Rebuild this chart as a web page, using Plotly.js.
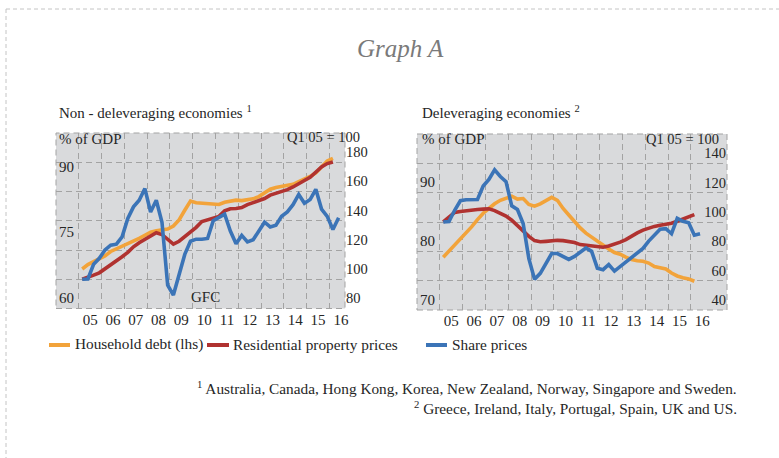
<!DOCTYPE html>
<html>
<head>
<meta charset="utf-8">
<script src="https://cdn.plot.ly/plotly-3.0.1.min.js"></script>
<style>html,body{margin:0;padding:0;background:#fff;}#chart{width:779px;height:458px;}</style>
</head>
<body>
<div id="chart"></div>
<script>
// ---- Categories ----
const quarters = [];
for (let y = 2005; y <= 2016; y++) for (let q = 1; q <= 4; q++) quarters.push(y + 'Q' + q);
const yearTickVals = [2005.5,2006.5,2007.5,2008.5,2009.5,2010.5,2011.5,2012.5,2013.5,2014.5,2015.5,2016.5];
const yearTickText = ['05','06','07','08','09','10','11','12','13','14','15','16'];
const yearGrid = [2005,2006,2007,2008,2009,2010,2011,2012,2013,2014,2015,2016];

// ---- Non-deleveraging economies ----
const ndHouseholdDebt = [69.0,70.0,70.7,71.3,72.0,73.0,73.6,74.1,74.6,75.4,76.0,76.7,77.4,77.7,77.9,78.1,
  78.8,80.2,82.4,84.5,84.1,84.0,84.1,84.0,83.7,84.2,84.4,84.7,84.6,84.8,85.0,85.5,86.3,87.2,87.6,87.9,
  88.0,88.3,88.9,89.4,90.1,90.9,92.3,93.6,94.2];
const ndPropertyPrices = [100,101.7,102.8,104.4,107.0,109.7,112.5,115.4,118.4,122.2,125.0,127.5,129.7,131.8,130.6,127.5,
  124.0,126.0,129.0,132.0,135.5,139.5,140.8,141.5,143.0,146.8,148.2,148.4,149.0,151.0,152.3,153.8,155.2,157.5,158.6,159.7,
  161.3,163.1,165.0,167.5,169.7,172.9,176.8,179.1,180.2];
const ndSharePrices = [100,100.2,110.2,114.3,120.0,123.3,124.0,129.0,141.6,149.5,154.0,162.0,146.0,154.0,139.0,96.0,
  89.2,103.0,117.0,126.0,127.4,127.4,127.9,140.0,142.5,144.5,133.0,124.3,130.0,125.5,127.0,133.0,139.0,135.8,137.0,143.0,
  146.0,151.0,158.0,152.0,154.5,161.5,148.0,143.0,134.0,142.0];

// ---- Deleveraging economies ----
const deHouseholdDebt = [79.0,80.0,81.1,82.0,83.1,84.2,85.4,86.5,87.3,88.1,88.7,89.1,89.4,88.9,89.0,88.0,
  87.7,88.1,88.7,89.2,88.7,87.3,86.2,85.0,84.0,83.1,82.4,81.8,81.1,80.4,79.8,79.5,79.0,78.6,78.4,78.3,
  78.0,77.4,77.2,77.0,76.3,75.8,75.5,75.3,74.9];
const dePropertyPrices = [100,103.5,106.5,107.2,107.8,108.2,108.5,108.8,109.0,107.8,106.0,104.0,101.2,97.5,93.6,90.2,
  87.3,86.5,86.8,87.2,87.5,87.3,86.9,86.0,84.6,84.0,83.6,83.1,82.8,83.6,84.8,86.3,88.0,90.5,92.6,94.5,
  95.9,97.0,97.8,98.3,99.2,100.5,101.8,103.2,105.0];
const deSharePrices = [100,100.3,108.0,114.5,115.2,115.3,115.3,124.5,129.0,135.5,131.0,127.5,111.0,108.5,99.0,75.0,
  61.0,65.0,71.5,78.5,78.5,76.5,74.5,76.5,79.5,82.3,80.0,68.5,67.5,71.0,66.5,69.7,72.5,75.5,79.0,82.0,
  87.0,91.0,95.0,95.5,92.0,102.5,100.5,99.5,91.0,92.0];

const seriesNames = ['Household debt (lhs)', 'Residential property prices', 'Share prices'];
const colors = ['#f2a33a', '#b03230', '#3b74b7'];

function qx(label) { const y = +label.slice(0, 4), q = +label.slice(5); return y + (q - 1) / 4 + 0.15; }
function xs(arr) { return quarters.slice(0, arr.length).map(qx); }

const FONT = "'Liberation Serif', 'DejaVu Serif', serif";
const TXT = '#262626';
const GRID = '#a3a3a3';
const DASH = '6px,4px';

function line(vals, xa, ya, color, name) {
  return { type: 'scatter', mode: 'lines', x: xs(vals), y: vals, xaxis: xa, yaxis: ya, name: name,
    line: { color: color, width: 3.6 }, showlegend: false, hoverinfo: 'skip' };
}

const data = [
  line(ndHouseholdDebt, 'x', 'y', colors[0], seriesNames[0]),
  line(ndPropertyPrices, 'x', 'y2', colors[1], seriesNames[1]),
  line(ndSharePrices, 'x', 'y2', colors[2], seriesNames[2]),
  line(deHouseholdDebt, 'x2', 'y3', colors[0], seriesNames[0]),
  line(dePropertyPrices, 'x2', 'y4', colors[1], seriesNames[1]),
  line(deSharePrices, 'x2', 'y4', colors[2], seriesNames[2])
];

const W = 779, H = 458;
const px = v => v / W, py = v => (H - v) / H;

function xAxis(domain, range, anchor) {
  return { domain: domain, range: range, anchor: anchor, tickmode: 'array', tickvals: yearTickVals, ticktext: yearTickText,
    showgrid: false, zeroline: false, showline: false, ticks: '', fixedrange: true,
    tickfont: { family: FONT, size: 15, color: TXT },
    minor: { tickmode: 'array', tickvals: yearGrid, showgrid: true, gridcolor: GRID, griddash: DASH, gridwidth: 1, ticks: '' } };
}
function yLeft(domain, range, vals, anchor) {
  return { domain: domain, range: range, anchor: anchor, tickmode: 'array', tickvals: vals, showgrid: false, zeroline: false,
    showline: false, ticks: '', ticklabelposition: 'inside top', fixedrange: true,
    tickfont: { family: FONT, size: 15, color: TXT } };
}
function yRight(over, anchor, range, vals, pos, standoff) {
  return { overlaying: over, side: 'right', anchor: anchor, range: range, tickmode: 'array', tickvals: vals,
    showgrid: true, gridcolor: GRID, griddash: DASH, gridwidth: 1, zeroline: false, showline: false, ticks: '',
    ticklabelposition: pos, ticklabelstandoff: standoff, fixedrange: true,
    tickfont: { family: FONT, size: 14.5, color: TXT } };
}

const dom1y = [py(308.5), py(133)], dom2y = [py(310), py(134)];

const ann = [];
function txt(text, x, y, anchor, size, extra) {
  ann.push(Object.assign({ text: text, xref: 'paper', yref: 'paper', x: px(x), y: py(y), xanchor: anchor, yanchor: 'middle',
    showarrow: false, font: { family: FONT, size: size, color: TXT } }, extra || {}));
}
txt('<i>Graph A</i>', 400, 48, 'center', 25, { font: { family: FONT, size: 25, color: '#7a7a7a' } });
txt('Non - deleveraging economies <sup>1</sup>', 57, 112, 'left', 15);
txt('Deleveraging economies <sup>2</sup>', 420, 112, 'left', 15);
txt('% of GDP', 57, 139, 'left', 15);
txt('Q1 05 = 100', 361, 136.5, 'right', 14.5, { borderpad: 0 });
txt('% of GDP', 420, 139, 'left', 15);
txt('Q1 05 = 100', 721, 139, 'right', 14.5);
ann.push({ text: 'GFC', xref: 'x', yref: 'y2', x: 2010.56, y: 88, xanchor: 'center', yanchor: 'middle', showarrow: false,
  font: { family: FONT, size: 15, color: TXT } });
// legend
const legendItems = [
  { x0: 49, x1: 70, tx: 73 },
  { x0: 207, x1: 229, tx: 231 },
  { x0: 426, x1: 447, tx: 450 }
];
const shapes = [];
legendItems.forEach((it, i) => {
  shapes.push({ type: 'line', xref: 'paper', yref: 'paper', x0: px(it.x0), x1: px(it.x1), y0: py(345), y1: py(345),
    line: { color: colors[i], width: 4 } });
  txt(seriesNames[i], it.tx, 344, 'left', 15.3);
});
txt('<sup>1</sup> Australia, Canada, Hong Kong, Korea, New Zealand, Norway, Singapore and Sweden.', 739, 387, 'right', 15.3);
txt('<sup>2</sup> Greece, Ireland, Italy, Portugal, Spain, UK and US.', 739, 407, 'right', 15.3);

// plot frames
shapes.push({ type: 'rect', xref: 'x domain', yref: 'y domain', x0: 0, x1: 1, y0: 0, y1: 1, layer: 'below',
  line: { color: GRID, width: 1, dash: DASH } });
shapes.push({ type: 'rect', xref: 'x2 domain', yref: 'y3 domain', x0: 0, x1: 1, y0: 0, y1: 1, layer: 'below',
  line: { color: GRID, width: 1, dash: DASH } });
// outer page frame
shapes.push({ type: 'line', xref: 'paper', yref: 'paper', x0: px(6), x1: 1, y0: py(9), y1: py(9),
  line: { color: '#c4c4c4', width: 1, dash: '4px,3px' } });
shapes.push({ type: 'line', xref: 'paper', yref: 'paper', x0: px(6), x1: px(6), y0: py(9), y1: 0,
  line: { color: '#c4c4c4', width: 1, dash: '4px,3px' } });

const layout = {
  width: W, height: H, margin: { l: 0, r: 0, t: 0, b: 0 },
  paper_bgcolor: '#ffffff', plot_bgcolor: '#d9dadc', showlegend: false,
  font: { family: FONT, color: TXT },
  xaxis: xAxis([px(56), px(345)], [2004, 2016.68], 'y'),
  yaxis: yLeft(dom1y, [60, 100], [60, 75, 90], 'x'),
  yaxis2: yRight('y', 'x', [80, 200], [80, 100, 120, 140, 160, 180], 'outside top', 0),
  xaxis2: xAxis([px(417), px(727)], [2004, 2017.58], 'y3'),
  yaxis3: yLeft(dom2y, [70, 100], [70, 80, 90], 'x2'),
  yaxis4: yRight('y3', 'x2', [40, 160], [40, 60, 80, 100, 120, 140], 'inside top', -2),
  annotations: ann, shapes: shapes
};

Plotly.newPlot('chart', data, layout, { staticPlot: true, displayModeBar: false });
</script>
</body>
</html>
